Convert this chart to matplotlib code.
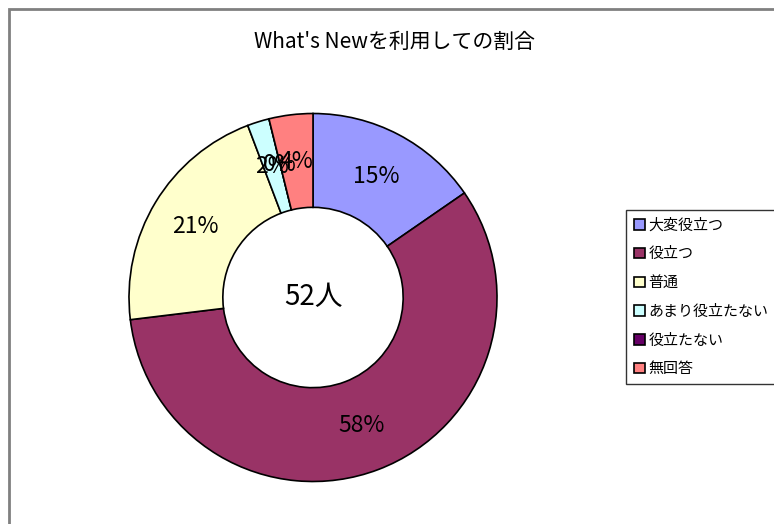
import matplotlib
matplotlib.use("Agg")
import matplotlib.pyplot as plt
from matplotlib.patches import Rectangle

plt.rcParams['font.family'] = ['Noto Sans CJK JP', 'DejaVu Sans']

# data
title = "What's Newを利用しての割合"
categories = ["大変役立つ", "役立つ", "普通", "あまり役立たない", "役立たない", "無回答"]
counts = [8, 30, 11, 1, 0, 2]
colors = ["#9999FF", "#993366", "#FFFFCC", "#CCFFFF", "#660066", "#FF8080"]
total_label = f"{sum(counts)}人"

W, H = 774, 524
fig = plt.figure(figsize=(W / 100, H / 100), dpi=100)
ax = fig.add_axes([0, 0, 1, 1])

# chart frame
ax.add_patch(Rectangle((8.5, -20), W + 20, H - 8.5 + 20, facecolor="white",
                       edgecolor="#808080", lw=2, zorder=0))

cx, cy, r = 313, H - 297.5, 184
wedges, texts, autotexts = ax.pie(
    counts, colors=colors, startangle=90, counterclock=False,
    center=(cx, cy), radius=r, frame=True,
    autopct='%1.0f%%', pctdistance=0.745,
    wedgeprops=dict(width=r * 0.51, edgecolor="black", linewidth=1.2),
    textprops=dict(fontsize=16.5, color="black"))
ax.set_xlim(0, W)
ax.set_ylim(0, H)
ax.set_aspect('auto')
ax.axis('off')

ax.text(cx, cy, total_label, ha="center", va="center", fontsize=20)
ax.text(394, H - 42, title, ha="center", va="center", fontsize=15)

leg = ax.legend(wedges, categories, loc="upper left", mode="expand",
                bbox_to_anchor=(626, H - 382, 180, 172), bbox_transform=ax.transData,
                fontsize=10.8, frameon=True, fancybox=False, edgecolor="black",
                handlelength=0.7, handleheight=0.7, handletextpad=0.25,
                labelspacing=0.98, borderpad=0.55, borderaxespad=0)
leg.get_frame().set_linewidth(1)

fig.savefig("out.png", dpi=100)
